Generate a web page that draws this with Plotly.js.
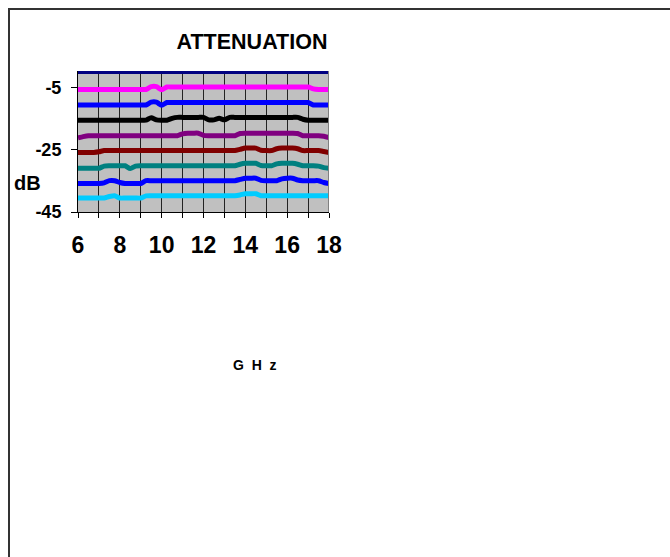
<!DOCTYPE html>
<html>
<head>
<meta charset="utf-8">
<script src="https://cdn.plot.ly/plotly-3.0.1.min.js"></script>
<style>
  html, body { margin: 0; padding: 0; background: #ffffff; }
  #wrap { position: relative; width: 670px; height: 557px; overflow: hidden; }
  #chart { position: absolute; left: 0; top: 0; width: 670px; height: 557px; }
  #frame { position: absolute; left: 8px; top: 8px; width: 700px; height: 600px;
           border-left: 2px solid #333333; border-top: 2px solid #333333; pointer-events: none; }
</style>
</head>
<body>
<div id="wrap">
  <div id="chart"></div>
  <div id="frame"></div>
</div>
<script>
// Frequency (GHz), 0.25 GHz steps
const freq = [6, 6.25, 6.5, 6.75, 7, 7.25, 7.5, 7.75, 8, 8.25, 8.5, 8.75, 9, 9.25, 9.5, 9.75,
              10, 10.25, 10.5, 10.75, 11, 11.25, 11.5, 11.75, 12, 12.25, 12.5, 12.75, 13, 13.25, 13.5, 13.75,
              14, 14.25, 14.5, 14.75, 15, 15.25, 15.5, 15.75, 16, 16.25, 16.5, 16.75, 17, 17.25, 17.5, 17.75, 18];

// Reference line at 0 dB
const refFreq = [6, 18];
const refLevel = [0, 0];

// Attenuation steps (dB)
const att5 = [-5.5, -5.5, -5.5, -5.5, -5.5, -5.5, -5.5, -5.5, -5.5, -5.5, -5.5, -5.5, -5.5, -5.5, -4.6, -4.6,
              -5.6, -4.7, -4.7, -4.7, -4.7, -4.7, -4.7, -4.7, -4.7, -4.7, -4.7, -4.7, -4.7, -4.7, -4.7, -4.7,
              -4.7, -4.7, -4.7, -4.7, -4.7, -4.7, -4.7, -4.7, -4.7, -4.7, -4.7, -4.7, -4.7, -5.3, -5.5, -5.5, -5.5];
const att10 = [-10.5, -10.5, -10.5, -10.5, -10.5, -10.5, -10.5, -10.5, -10.5, -10.5, -10.5, -10.5, -10.5, -10.5, -9.6, -9.6,
               -10.6, -9.7, -9.7, -9.7, -9.7, -9.7, -9.7, -9.7, -9.7, -9.7, -9.7, -9.7, -9.7, -9.7, -9.7, -9.7,
               -9.7, -9.7, -9.7, -9.7, -9.7, -9.7, -9.7, -9.7, -9.7, -9.7, -9.7, -9.7, -9.7, -10.5, -10.5, -10.5, -10.5];
const att15 = [-15.4, -15.4, -15.4, -15.4, -15.4, -15.4, -15.4, -15.4, -15.4, -15.4, -15.4, -15.4, -15.4, -15.4, -14.6, -15.3,
               -15.4, -15.4, -14.8, -14.5, -14.5, -14.5, -14.5, -14.5, -14.5, -15.3, -15.3, -14.8, -15.3, -14.5, -14.5, -14.5,
               -14.5, -14.5, -14.5, -14.5, -14.5, -14.5, -14.5, -14.5, -14.5, -14.5, -14.5, -15.1, -15.4, -15.4, -15.4, -15.4, -15.4];
const att20 = [-21.1, -20.7, -20.4, -20.4, -20.4, -20.4, -20.4, -20.4, -20.4, -20.4, -20.4, -20.4, -20.4, -20.4, -20.4, -20.4,
               -20.4, -20.4, -20.4, -20.4, -19.8, -19.6, -19.6, -19.6, -20.3, -20.4, -20.4, -20.4, -20.4, -20.4, -20.4, -19.7,
               -19.6, -19.6, -19.6, -19.6, -19.6, -19.6, -19.6, -19.6, -19.6, -19.6, -19.7, -20.4, -20.4, -20.4, -20.4, -20.6, -21.0];
const att25 = [-25.8, -25.8, -25.8, -25.8, -25.6, -25.2, -25.2, -25.2, -25.2, -25.2, -25.2, -25.2, -25.2, -25.2, -25.2, -25.2,
               -25.2, -25.2, -25.2, -25.2, -25.2, -25.2, -25.2, -25.2, -25.2, -25.2, -25.2, -25.2, -25.2, -25.2, -25.2, -24.8,
               -24.4, -24.4, -24.4, -25.1, -25.2, -25.2, -24.6, -24.4, -24.4, -24.4, -24.6, -25.2, -25.2, -25.2, -25.2, -25.5, -25.8];
const att30 = [-30.9, -30.9, -30.9, -30.9, -30.9, -30.2, -30.1, -30.1, -30.1, -30.1, -31.0, -30.2, -30.1, -30.1, -30.1, -30.1,
               -30.1, -30.1, -30.1, -30.1, -30.1, -30.1, -30.1, -30.1, -30.1, -30.1, -30.1, -30.1, -30.1, -30.1, -30.1, -29.6,
               -29.3, -29.3, -29.3, -30.0, -30.1, -30.1, -29.5, -29.3, -29.3, -29.3, -29.6, -30.1, -30.1, -30.1, -30.2, -30.7, -30.9];
const att35 = [-35.8, -35.8, -35.8, -35.8, -35.8, -35.6, -34.9, -34.9, -35.5, -35.8, -35.8, -35.8, -35.8, -34.9, -34.9, -34.9,
               -34.9, -34.9, -34.9, -34.9, -34.9, -34.9, -34.9, -34.9, -34.9, -34.9, -34.9, -34.9, -34.9, -34.9, -34.9, -34.5,
               -34.1, -34.1, -34.1, -34.8, -34.9, -34.9, -34.9, -34.3, -34.1, -34.1, -34.7, -34.9, -34.9, -34.9, -34.9, -35.5, -35.8];
const att40 = [-40.5, -40.5, -40.5, -40.5, -40.5, -40.5, -40.0, -39.75, -40.5, -40.5, -40.5, -40.5, -40.5, -39.8, -39.75, -39.75,
               -39.75, -39.75, -39.75, -39.75, -39.75, -39.75, -39.75, -39.75, -39.75, -39.75, -39.75, -39.75, -39.75, -39.75, -39.75, -39.5,
               -39.1, -39.1, -39.1, -39.75, -39.75, -39.75, -39.75, -39.75, -39.75, -39.75, -39.75, -39.75, -39.75, -39.75, -39.75, -39.75, -39.75];

const seriesNames = ['0 dB', '5 dB', '10 dB', '15 dB', '20 dB', '25 dB', '30 dB', '35 dB', '40 dB'];
const yTickVals = [-45, -25, -5];
const xTickVals = [6, 8, 10, 12, 14, 16, 18];

const colors = ['#000080', '#ff00ff', '#0000ff', '#000000', '#800080', '#800000', '#008080', '#0000ff', '#00ccff'];
const seriesData = [att5, att10, att15, att20, att25, att30, att35, att40];

const font = 'Liberation Sans, Arial, Helvetica, sans-serif';

const traces = [{
  x: refFreq, y: refLevel, type: 'scatter', mode: 'lines', name: seriesNames[0],
  line: {color: colors[0], width: 3}, hoverinfo: 'skip'
}];
seriesData.forEach((vals, k) => {
  traces.push({
    x: freq, y: vals, type: 'scatter', mode: 'lines', name: seriesNames[k + 1],
    line: {color: colors[k + 1], width: 5, shape: 'spline', smoothing: 0.6}
  });
});

const layout = {
  width: 670, height: 557,
  margin: {l: 78, r: 341, t: 71, b: 345, pad: 0},
  paper_bgcolor: 'rgba(0,0,0,0)',
  plot_bgcolor: '#c0c0c0',
  showlegend: false,
  title: {
    text: '<b>ATTENUATION</b>',
    font: {family: font, size: 21.5, color: '#000000'},
    x: 252 / 670, xref: 'container', xanchor: 'center',
    y: 1 - 41 / 557, yref: 'container', yanchor: 'middle'
  },
  xaxis: {
    range: [6, 18],
    tickvals: xTickVals,
    ticktext: xTickVals.map(v => '<b>' + v + '</b>'),
    ticks: 'outside', ticklen: 5, tickcolor: '#000000', tickwidth: 1,
    ticklabelstandoff: 7,
    tickfont: {family: font, size: 23, color: '#000000'},
    showgrid: true, gridcolor: '#222222', gridwidth: 1,
    minor: {dtick: 1, tick0: 6, showgrid: true, gridcolor: '#222222', gridwidth: 1, ticks: 'outside', ticklen: 5, tickcolor: '#000000'},
    showline: true, linecolor: '#000000', linewidth: 1,
    zeroline: false, fixedrange: true
  },
  yaxis: {
    range: [-45, 0.45],
    tickvals: yTickVals,
    ticktext: yTickVals.map(v => '<b>' + v + '</b>'),
    ticks: 'outside', ticklen: 6, tickcolor: '#000000', tickwidth: 1,
    ticklabelstandoff: 6,
    tickfont: {family: font, size: 18, color: '#000000'},
    showgrid: false,
    showline: true, linecolor: '#000000', linewidth: 1,
    zeroline: false, fixedrange: true
  },
  shapes: [{
    type: 'line', xref: 'x', yref: 'paper', x0: 18, x1: 18, y0: 0, y1: 1,
    line: {color: '#808080', width: 2}
  }],
  annotations: [
    {text: '<b>dB</b>', xref: 'paper', yref: 'paper', x: (27 - 78) / 251, y: (212 - 183) / 141,
     xanchor: 'center', yanchor: 'middle', showarrow: false,
     font: {family: font, size: 20, color: '#000000'}},
    {text: '<b>G&nbsp;&nbsp;H&nbsp;&nbsp;z</b>', xref: 'paper', yref: 'paper', x: (255 - 78) / 251, y: (212 - 365) / 141,
     xanchor: 'center', yanchor: 'middle', showarrow: false,
     font: {family: font, size: 14, color: '#000000'}}
  ]
};

Plotly.newPlot('chart', traces, layout, {displayModeBar: false, staticPlot: true});
</script>
</body>
</html>
